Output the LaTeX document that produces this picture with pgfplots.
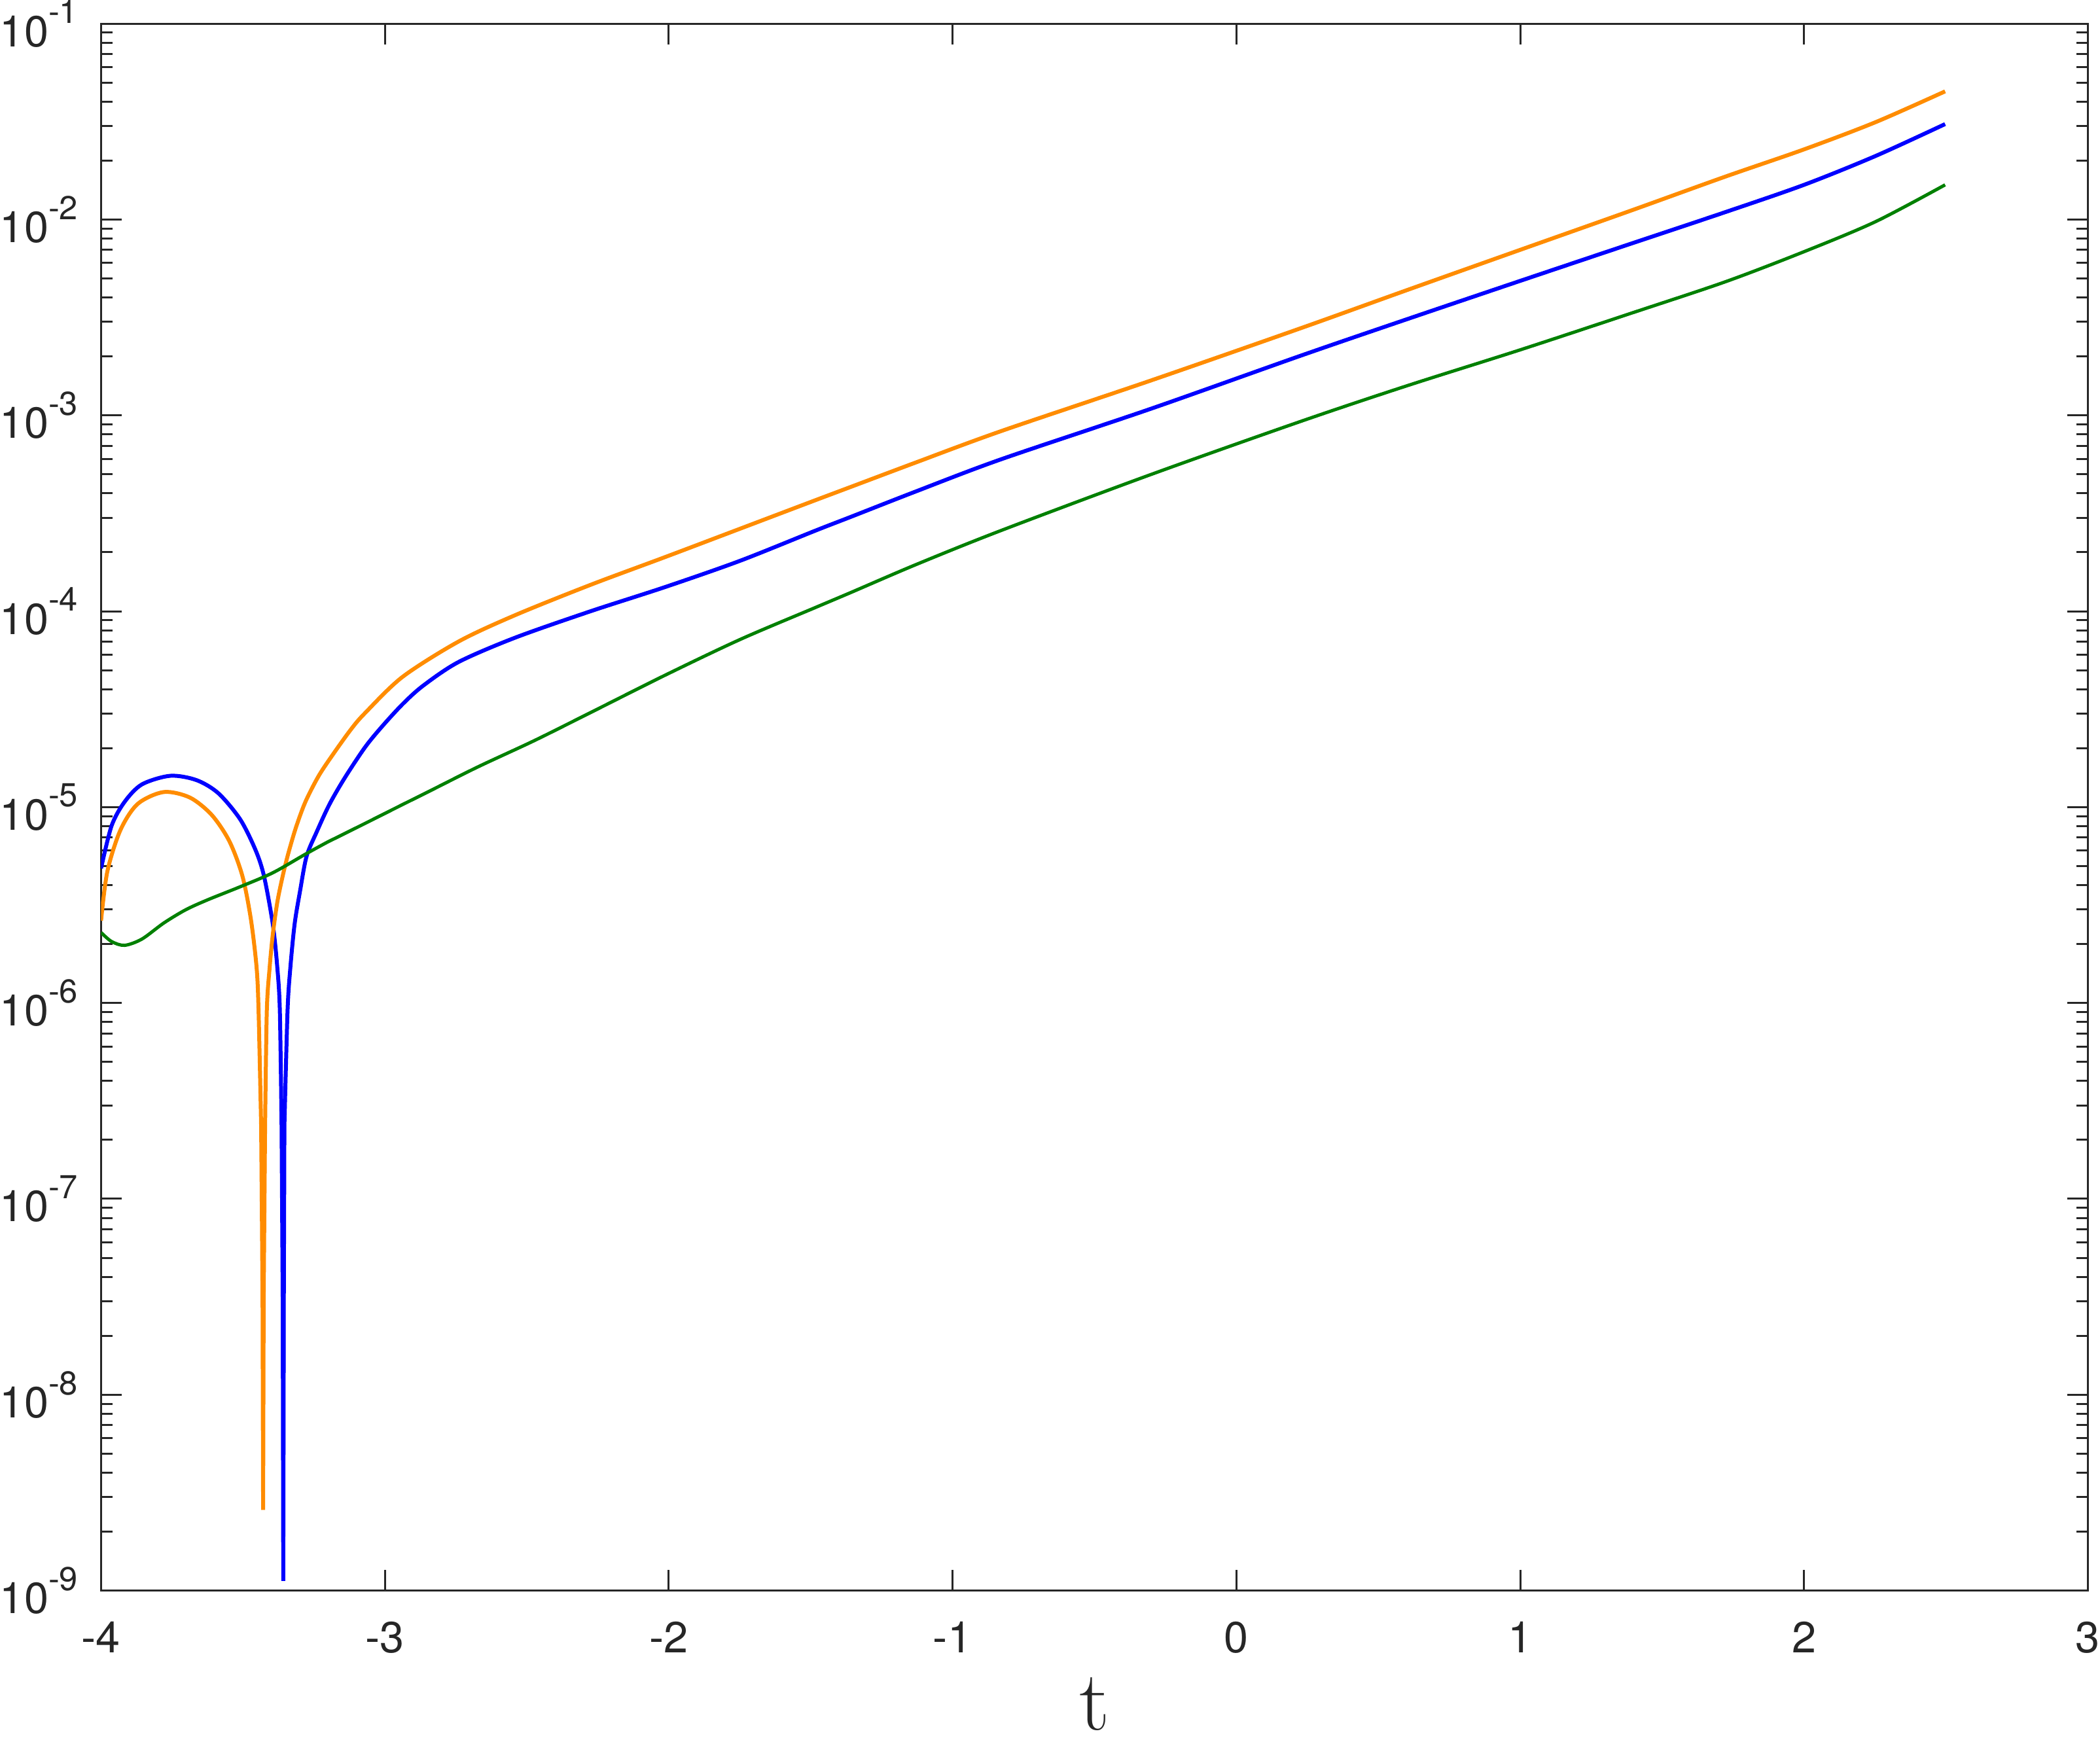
\documentclass[border=0pt]{standalone}
\usepackage{fontspec}
\setmainfont{TeX Gyre Heros}
\newfontfamily\lmr{Latin Modern Roman}
\usepackage{pgfplots}
\usepackage{pgfplotstable}
\pgfplotsset{compat=1.18}
\definecolor{axgray}{RGB}{38,38,38}
\definecolor{morange}{RGB}{255,140,0}
\definecolor{mblue}{RGB}{0,0,255}
\definecolor{mgreen}{RGB}{0,128,0}
\newcommand{\tenp}[1]{10\raisebox{5.3pt}{\fontsize{7.6pt}{9pt}\selectfont #1}}

\pgfplotstableread{
x y
-4.000 4.864e-6
-3.963 8.02e-6
-3.917 1.064e-5
-3.856 1.306e-5
-3.756 1.445e-5
-3.664 1.374e-5
-3.587 1.178e-5
-3.510 8.67e-6
-3.456 6.05e-6
-3.426 4.45e-6
-3.395 2.53e-6
-3.379 1.517e-6
-3.370 9.08e-7
-3.364 2.37e-7
-3.360 3.16e-8
-3.358 1.12e-9
-3.356 3.16e-8
-3.354 2.37e-7
-3.343 9.08e-7
-3.333 1.517e-6
-3.318 2.53e-6
-3.299 3.72e-6
-3.276 5.60e-6
-3.241 7.43e-6
-3.195 1.035e-5
-3.141 1.413e-5
-3.070 2.02e-5
-3.011 2.57e-5
-2.938 3.35e-5
-2.865 4.17e-5
-2.740 5.51e-5
-2.541 7.33e-5
-2.277 9.98e-5
-2.012 1.330e-4
-1.748 1.811e-4
-1.483 2.58e-4
-1.359 3.03e-4
-1.129 4.09e-4
-0.830 5.96e-4
-0.301 1.081e-3
0.228 2.02e-3
0.599 3.09e-3
1.000 4.86e-3
1.393 7.55e-3
1.723 1.091e-2
2.000 1.503e-2
2.252 2.11e-2
2.497 3.07e-2
}\blueT

\pgfplotstableread{
x y
-4.000 2.63e-6
-3.978 4.68e-6
-3.932 7.62e-6
-3.871 1.038e-5
-3.779 1.194e-5
-3.687 1.119e-5
-3.610 9.12e-6
-3.548 6.70e-6
-3.502 4.45e-6
-3.472 2.67e-6
-3.452 1.517e-6
-3.445 9.08e-7
-3.436 2.37e-7
-3.431 3.16e-8
-3.429 2.58e-9
-3.427 3.16e-8
-3.422 2.37e-7
-3.416 9.08e-7
-3.406 1.517e-6
-3.395 2.23e-6
-3.379 3.27e-6
-3.360 4.45e-6
-3.341 5.75e-6
-3.314 7.82e-6
-3.280 1.064e-5
-3.233 1.445e-5
-3.180 1.884e-5
-3.118 2.51e-5
-3.070 3.02e-5
-2.938 4.62e-5
-2.740 7.01e-5
-2.541 9.55e-5
-2.277 1.361e-4
-2.012 1.892e-4
-1.748 2.64e-4
-1.483 3.69e-4
-1.359 4.31e-4
-1.129 5.75e-4
-0.830 8.30e-4
-0.301 1.507e-3
0.228 2.79e-3
0.599 4.35e-3
1.000 7.00e-3
1.393 1.114e-2
1.723 1.656e-2
2.000 2.28e-2
2.252 3.14e-2
2.497 4.51e-2
}\orangeT

\pgfplotstableread{
x y
-4.000 2.29e-6
-3.963 2.06e-6
-3.917 1.97e-6
-3.856 2.12e-6
-3.779 2.56e-6
-3.702 2.99e-6
-3.625 3.36e-6
-3.510 3.92e-6
-3.395 4.62e-6
-3.280 5.75e-6
-3.203 6.62e-6
-3.164 7.06e-6
-3.049 8.55e-6
-2.938 1.030e-5
-2.857 1.178e-5
-2.674 1.600e-5
-2.475 2.18e-5
-2.277 3.03e-5
-2.012 4.72e-5
-1.748 7.18e-5
-1.483 1.045e-4
-1.359 1.245e-4
-1.129 1.730e-4
-0.830 2.58e-4
-0.301 4.99e-4
0.228 9.33e-4
0.599 1.413e-3
1.000 2.16e-3
1.393 3.33e-3
1.723 4.81e-3
2.000 6.85e-3
2.252 9.75e-3
2.497 1.503e-2
}\greenT

\begin{document}
\begin{tikzpicture}
\begin{semilogyaxis}[
  scale only axis,
  width=455.7pt, height=359.4pt,
  xmin=-4, xmax=3, ymin=1e-9, ymax=1e-1,
  axis line style={axgray, line width=0.45pt},
  every tick/.style={axgray, line width=0.45pt},
  tick align=inside,
  xtick pos=both, ytick pos=both,
  major tick length=4.8pt, minor tick length=2.6pt,
  xtick={-4,-3,-2,-1,0,1,2,3},
  xticklabels={-4,-3,-2,-1,0,1,2,3},
  ytick={1e-9,1e-8,1e-7,1e-6,1e-5,1e-4,1e-3,1e-2,1e-1},
  yticklabels={\tenp{-9},\tenp{-8},\tenp{-7},\tenp{-6},\tenp{-5},\tenp{-4},\tenp{-3},\tenp{-2},\tenp{-1}},
  minor ytick={2e-9,3e-9,4e-9,5e-9,6e-9,7e-9,8e-9,9e-9,
               2e-8,3e-8,4e-8,5e-8,6e-8,7e-8,8e-8,9e-8,
               2e-7,3e-7,4e-7,5e-7,6e-7,7e-7,8e-7,9e-7,
               2e-6,3e-6,4e-6,5e-6,6e-6,7e-6,8e-6,9e-6,
               2e-5,3e-5,4e-5,5e-5,6e-5,7e-5,8e-5,9e-5,
               2e-4,3e-4,4e-4,5e-4,6e-4,7e-4,8e-4,9e-4,
               2e-3,3e-3,4e-3,5e-3,6e-3,7e-3,8e-3,9e-3,
               2e-2,3e-2,4e-2,5e-2,6e-2,7e-2,8e-2,9e-2},
  xticklabel style={font=\fontsize{10pt}{12pt}\selectfont, text=axgray, inner sep=0pt, anchor=north, yshift=-6.9pt},
  yticklabel style={font=\fontsize{10pt}{12pt}\selectfont, text=axgray, inner sep=0pt, anchor=east, xshift=-5.1pt},
  xlabel={\lmr\fontsize{19.5pt}{22pt}\selectfont t},
  xlabel style={at={(axis description cs:0.5,0)}, anchor=base, inner xsep=0pt, inner ysep=2.5pt, yshift=-32pt, text=axgray},
  clip=true,
]
% blue: arc, dip, rising branch
\addplot[mblue, line width=0.9pt, smooth, skip coords between index={14}{100}] table[x=x,y=y] {\blueT};
\addplot[mblue, line width=0.9pt, skip coords between index={0}{13}, skip coords between index={18}{100}] table[x=x,y=y] {\blueT};
\addplot[mblue, line width=0.9pt, smooth, skip coords between index={0}{17}] table[x=x,y=y] {\blueT};
% orange: arc, dip, rising branch
\addplot[morange, line width=0.9pt, smooth, skip coords between index={13}{100}] table[x=x,y=y] {\orangeT};
\addplot[morange, line width=0.9pt, skip coords between index={0}{12}, skip coords between index={17}{100}] table[x=x,y=y] {\orangeT};
\addplot[morange, line width=0.9pt, smooth, skip coords between index={0}{16}] table[x=x,y=y] {\orangeT};
% green
\addplot[mgreen, line width=0.75pt, smooth] table[x=x,y=y] {\greenT};
\end{semilogyaxis}
\end{tikzpicture}
\end{document}
